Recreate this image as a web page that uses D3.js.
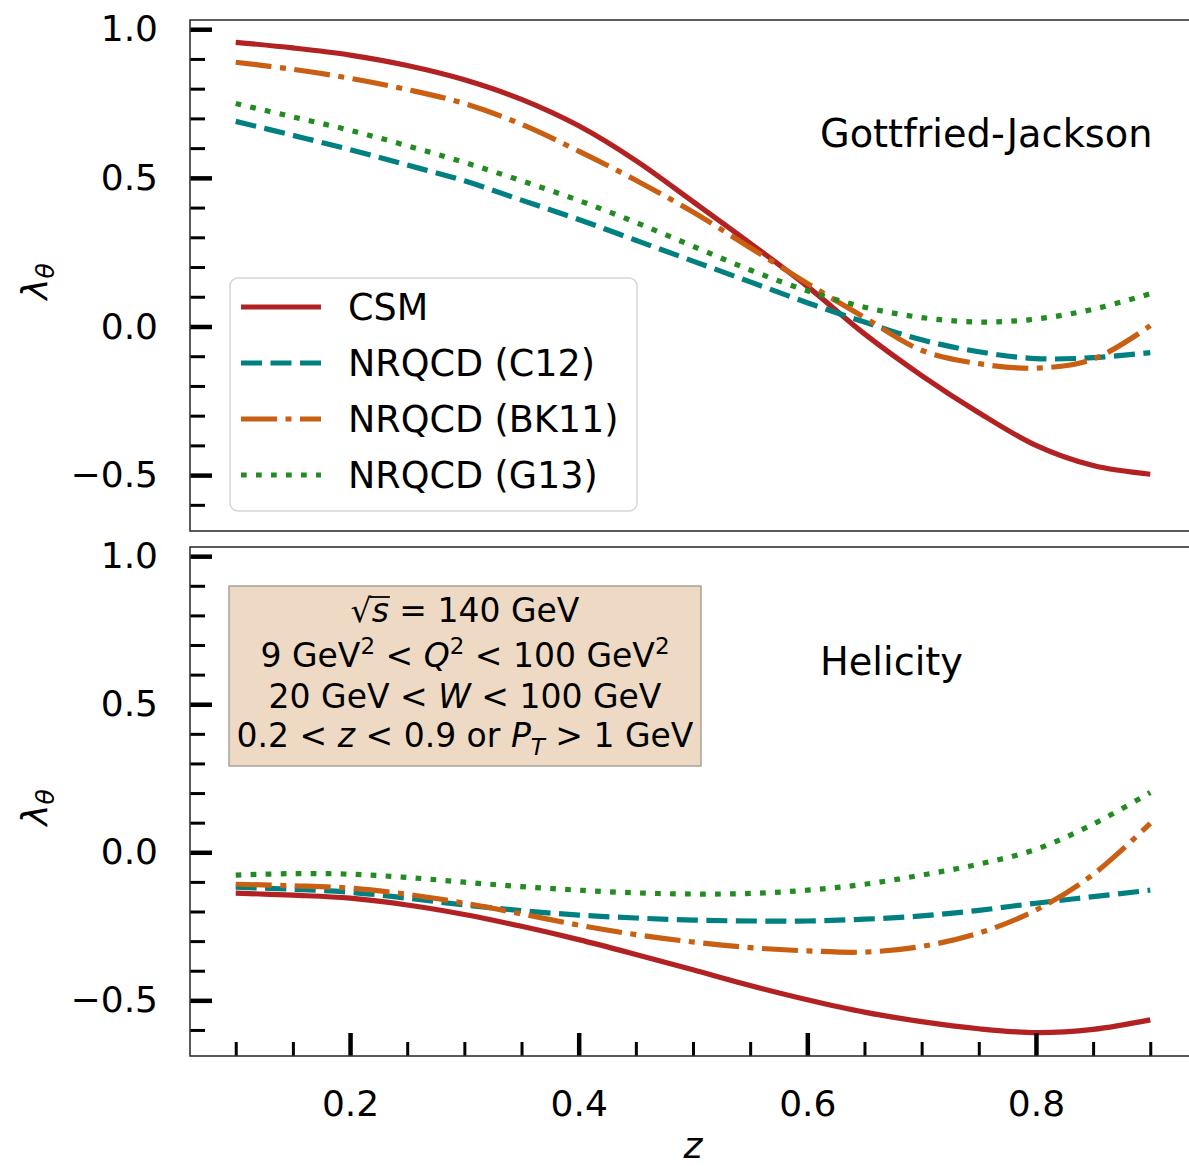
<!DOCTYPE html>
<html>
<head>
<meta charset="utf-8">
<script src="https://cdn.jsdelivr.net/npm/d3@7"></script>
<style>
  html, body { margin: 0; padding: 0; background: #fff; }
  svg { display: block; font-family: "DejaVu Sans", sans-serif; }
</style>
</head>
<body>
<svg id="chart" width="1189" height="1166"></svg>
<script>
// z grid shared by every curve
const zValues = [0.10, 0.15, 0.20, 0.25, 0.30, 0.35, 0.40, 0.45, 0.50,
                 0.55, 0.60, 0.65, 0.70, 0.75, 0.80, 0.85, 0.90];

// Gottfried-Jackson frame
const gjCSM   = [0.956, 0.937, 0.913, 0.878, 0.830, 0.764, 0.675, 0.558, 0.420,
                 0.280, 0.135, -0.025, -0.165, -0.290, -0.400, -0.468, -0.497];
const gjC12   = [0.690, 0.643, 0.595, 0.543, 0.490, 0.425, 0.360, 0.290, 0.220,
                 0.150, 0.080, 0.015, -0.045, -0.085, -0.108, -0.105, -0.088];
const gjBK11  = [0.889, 0.865, 0.835, 0.797, 0.750, 0.680, 0.590, 0.492, 0.385,
                 0.265, 0.145, 0.030, -0.080, -0.125, -0.140, -0.110, 0.003];
const gjG13   = [0.750, 0.705, 0.660, 0.608, 0.552, 0.490, 0.424, 0.350, 0.270,
                 0.190, 0.120, 0.065, 0.030, 0.015, 0.025, 0.058, 0.110];

// Helicity frame
const hxCSM   = [-0.138, -0.145, -0.155, -0.178, -0.210, -0.250, -0.295, -0.345, -0.397,
                 -0.450, -0.498, -0.540, -0.572, -0.596, -0.609, -0.598, -0.566];
const hxC12   = [-0.118, -0.125, -0.135, -0.155, -0.178, -0.197, -0.212, -0.222, -0.229,
                 -0.232, -0.232, -0.226, -0.215, -0.196, -0.172, -0.150, -0.128];
const hxBK11  = [-0.108, -0.113, -0.121, -0.142, -0.172, -0.208, -0.246, -0.278, -0.303,
                 -0.322, -0.333, -0.337, -0.318, -0.273, -0.195, -0.075, 0.098];
const hxG13   = [-0.077, -0.072, -0.074, -0.085, -0.101, -0.116, -0.128, -0.137, -0.141,
                 -0.139, -0.128, -0.108, -0.077, -0.040, 0.010, 0.095, 0.202];

const seriesNames = ["CSM", "NRQCD (C12)", "NRQCD (BK11)", "NRQCD (G13)"];
const panelTitles = ["Gottfried-Jackson", "Helicity"];

const xMajorTicks = [0.2, 0.4, 0.6, 0.8];
const xMinorTicks = [0.10, 0.15, 0.25, 0.30, 0.35, 0.45, 0.50, 0.55, 0.65, 0.70, 0.75, 0.85, 0.90];
const yMajorTicks = [-0.5, 0.0, 0.5, 1.0];
const yMinorTicks = [-0.6, -0.4, -0.3, -0.2, -0.1, 0.1, 0.2, 0.3, 0.4, 0.6, 0.7, 0.8, 0.9];

// styles
const colors = ["#b22222", "#008080", "#c95f12", "#228b22"];
const dashes = [null, "21,8.5", "36,8.5,6,8.5", "5.7,9.3"];
const lineW = 5.2;

const svg = d3.select("#chart");
const left = 190, right = 1196;
const panels = [
  { top: 20,  bottom: 531, data: [gjCSM, gjC12, gjBK11, gjG13], title: panelTitles[0], titleY: 147 },
  { top: 547, bottom: 1056, data: [hxCSM, hxC12, hxBK11, hxG13], title: panelTitles[1], titleY: 675 }
];

const x = d3.scaleLinear().domain([0.06, 0.94]).range([left, right]);
const yDomain = [-0.688, 1.031];
const fmt = d3.format(".1f");

panels.forEach((p, pi) => {
  const y = d3.scaleLinear().domain(yDomain).range([p.bottom, p.top]);
  const g = svg.append("g");

  // curves
  const line = d3.line().x((d, i) => x(zValues[i])).y(d => y(d)).curve(d3.curveCatmullRom.alpha(0.5));
  p.data.forEach((vals, si) => {
    g.append("path")
      .attr("d", line(vals))
      .attr("fill", "none")
      .attr("stroke", colors[si])
      .attr("stroke-width", lineW)
      .attr("stroke-dasharray", dashes[si])
      .attr("stroke-linecap", "butt");
  });

  // y axis: major + minor, ticks pointing inward
  const yMaj = g.append("g").attr("transform", `translate(${left},0)`)
    .call(d3.axisLeft(y).tickValues(yMajorTicks).tickSize(-22).tickPadding(32).tickFormat(fmt));
  yMaj.select(".domain").remove();
  yMaj.selectAll(".tick line").attr("stroke", "#000").attr("stroke-width", 4.5);
  yMaj.selectAll(".tick text").attr("font-size", 36).attr("font-family", "DejaVu Sans").attr("fill", "#000");

  const yMin = g.append("g").attr("transform", `translate(${left},0)`)
    .call(d3.axisLeft(y).tickValues(yMinorTicks).tickSize(-15).tickFormat(""));
  yMin.select(".domain").remove();
  yMin.selectAll(".tick line").attr("stroke", "#000").attr("stroke-width", 3);

  // y label
  const yl = g.append("text")
    .attr("transform", `translate(47,${(p.top + p.bottom) / 2 + 6}) rotate(-90)`)
    .attr("text-anchor", "middle")
    .attr("font-size", 36);
  yl.append("tspan").attr("font-style", "italic").text("λ");
  yl.append("tspan").attr("font-style", "italic").attr("font-size", 25).attr("dy", 7).text("θ");

  // frame title
  g.append("text")
    .attr("x", 820).attr("y", p.titleY)
    .attr("font-size", 38.3)
    .attr("fill", "#000")
    .text(p.title);

  // x axis only on the lower panel
  if (pi === 1) {
    const xMaj = g.append("g").attr("transform", `translate(0,${p.bottom})`)
      .call(d3.axisBottom(x).tickValues(xMajorTicks).tickSize(-23).tickPadding(34).tickFormat(fmt));
    xMaj.select(".domain").remove();
    xMaj.selectAll(".tick line").attr("stroke", "#000").attr("stroke-width", 4.5);
    xMaj.selectAll(".tick text").attr("font-size", 36).attr("font-family", "DejaVu Sans").attr("fill", "#000");

    const xMin = g.append("g").attr("transform", `translate(0,${p.bottom})`)
      .call(d3.axisBottom(x).tickValues(xMinorTicks).tickSize(-14).tickFormat(""));
    xMin.select(".domain").remove();
    xMin.selectAll(".tick line").attr("stroke", "#000").attr("stroke-width", 3);

    g.append("text")
      .attr("x", (left + right) / 2).attr("y", 1158)
      .attr("text-anchor", "middle")
      .attr("font-size", 36)
      .attr("font-style", "italic")
      .text("z");
  }

  // frame
  g.append("rect")
    .attr("x", left).attr("y", p.top)
    .attr("width", right - left).attr("height", p.bottom - p.top)
    .attr("fill", "none").attr("stroke", "#333").attr("stroke-width", 1.6);
});

// legend in the upper panel
const legend = svg.append("g");
legend.append("rect")
  .attr("x", 230).attr("y", 278).attr("width", 407).attr("height", 233)
  .attr("rx", 8).attr("ry", 8)
  .attr("fill", "#fff").attr("fill-opacity", 0.85)
  .attr("stroke", "#d6d6d6").attr("stroke-width", 1.5);
const legendRows = d3.scaleLinear().domain([0, 3]).range([307, 475]);
seriesNames.forEach((name, i) => {
  const ly = legendRows(i);
  legend.append("line")
    .attr("x1", 241).attr("x2", 321).attr("y1", ly).attr("y2", ly)
    .attr("stroke", colors[i]).attr("stroke-width", lineW)
    .attr("stroke-dasharray", dashes[i]);
  legend.append("text")
    .attr("x", 348).attr("y", ly + 13)
    .attr("font-size", 36.5)
    .text(name);
});

// kinematic cuts box in the lower panel
const box = svg.append("g");
box.append("rect")
  .attr("x", 229).attr("y", 586).attr("width", 472).attr("height", 180)
  .attr("fill", "#eedac4").attr("stroke", "#a8a29a").attr("stroke-width", 1.5);
const cx = 465, fs = 33;
const sup = 23;

const l1 = box.append("text").attr("x", cx).attr("y", 622).attr("text-anchor", "middle").attr("font-size", fs);
l1.append("tspan").text("√");
l1.append("tspan").attr("font-style", "italic").text("s");
l1.append("tspan").text(" = 140 GeV");

const l2 = box.append("text").attr("x", cx).attr("y", 667).attr("text-anchor", "middle").attr("font-size", fs);
l2.append("tspan").text("9 GeV");
l2.append("tspan").attr("font-size", sup).attr("dy", -13).text("2");
l2.append("tspan").attr("dy", 13).text(" < ");
l2.append("tspan").attr("font-style", "italic").text("Q");
l2.append("tspan").attr("font-size", sup).attr("dy", -13).text("2");
l2.append("tspan").attr("dy", 13).text(" < 100 GeV");
l2.append("tspan").attr("font-size", sup).attr("dy", -13).text("2");

const l3 = box.append("text").attr("x", cx).attr("y", 708).attr("text-anchor", "middle").attr("font-size", fs);
l3.append("tspan").text("20 GeV < ");
l3.append("tspan").attr("font-style", "italic").text("W");
l3.append("tspan").text(" < 100 GeV");

const l4 = box.append("text").attr("x", cx).attr("y", 747).attr("text-anchor", "middle").attr("font-size", fs);
l4.append("tspan").text("0.2 < ");
l4.append("tspan").attr("font-style", "italic").text("z");
l4.append("tspan").text(" < 0.9 or ");
l4.append("tspan").attr("font-style", "italic").text("P");
l4.append("tspan").attr("font-style", "italic").attr("font-size", sup).attr("dy", 8).text("T");
l4.append("tspan").attr("dy", -8).text(" > 1 GeV");

// vinculum over the s of the square root
const sExt = l1.node().getExtentOfChar(1);
box.append("line")
  .attr("x1", sExt.x - 2).attr("x2", sExt.x + sExt.width + 1)
  .attr("y1", 597).attr("y2", 597)
  .attr("stroke", "#000").attr("stroke-width", 1.8);
</script>
</body>
</html>
